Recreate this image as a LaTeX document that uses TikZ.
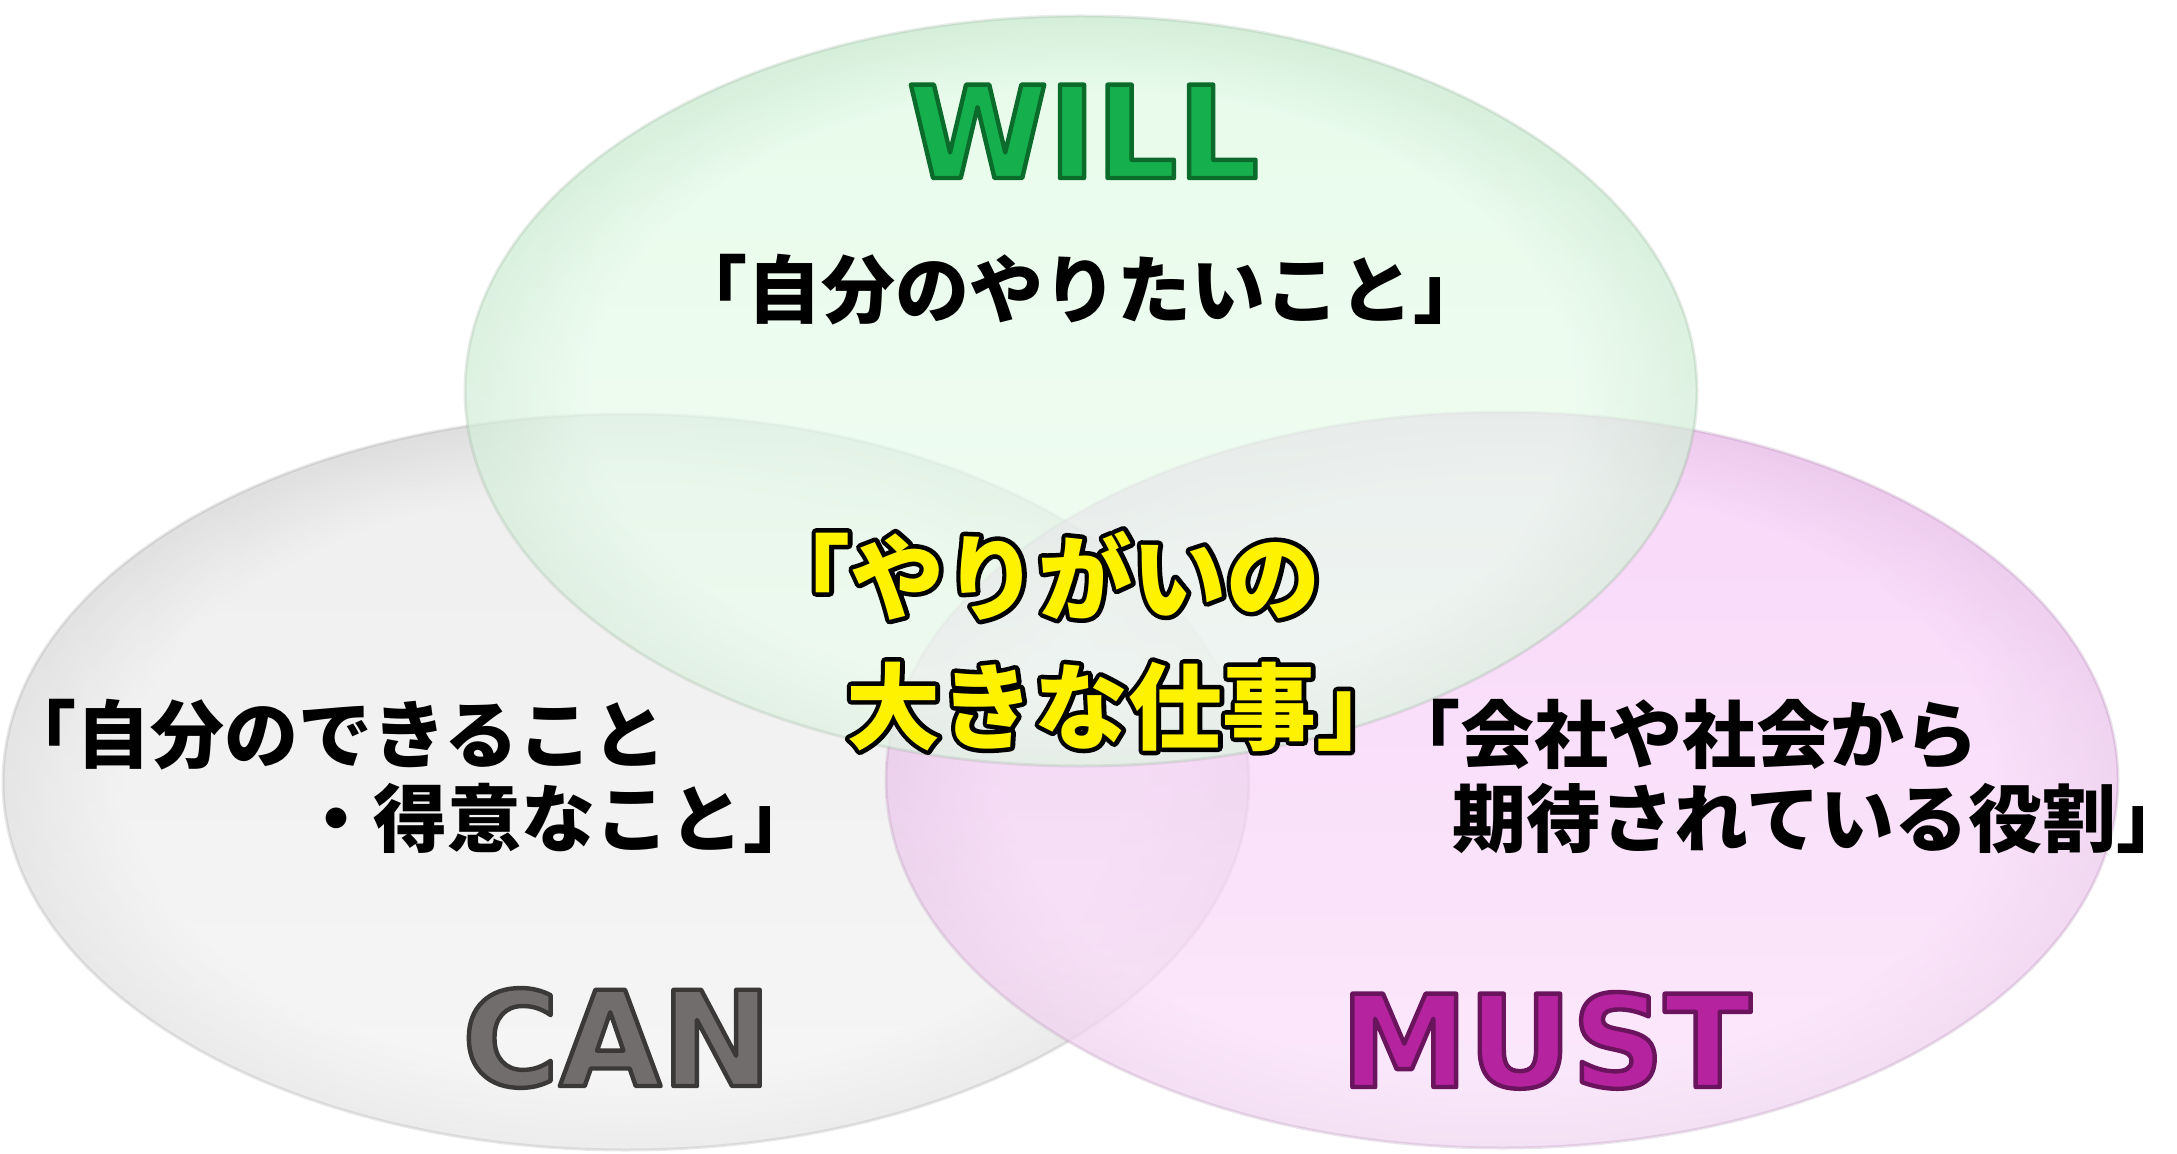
\documentclass[tikz,border=0pt]{standalone}
\usepackage{fontspec}
\usetikzlibrary{fadings}
\newfontfamily\jp{Noto Sans CJK JP}
\newfontfamily\lat{DejaVu Sans}
\definecolor{willg}{HTML}{15B04D}
\definecolor{cang}{HTML}{716D6D}
\definecolor{mustm}{HTML}{B5239E}
\definecolor{gin}{RGB}{217,250,223}
\definecolor{gout}{RGB}{188,229,195}
\definecolor{cin}{RGB}{229,229,229}
\definecolor{cout}{RGB}{203,203,203}
\definecolor{pin}{RGB}{245,190,245}
\definecolor{pout}{RGB}{226,168,226}
\pgfdeclareradialshading[rimin,rimout]{rim}{\pgfpoint{0bp}{0bp}}{color(0bp)=(rimin); color(20bp)=(rimin); color(24.6bp)=(rimout); color(25bp)=(rimout); color(50bp)=(rimout)}
\newcommand\vennell[6]{%
  \colorlet{rimin}{#5}\colorlet{rimout}{#6}%
  \shade[shading=rim, fill opacity=0.6] (#1,#2) ellipse [x radius=#3, y radius=#4];
  \fill[white, fill opacity=0.45, path fading=north] (#1,#2) ellipse [x radius=#3, y radius=#4];
  \draw[#6!70!black, draw opacity=0.2, line width=1.5] (#1,#2) ellipse [x radius=#3, y radius=#4];
}
% outlined text via PDF text render mode 2 (fill + stroke)
\newcommand\strk[2]{\special{pdf:literal direct #1 1 j 2 Tr}#2\special{pdf:literal direct 0 Tr}}
\tikzset{
  desc/.style={inner sep=0pt, text=black, font=\jp\bfseries\fontsize{37}{40}\selectfont},
  core/.style={inner sep=0pt, anchor=base west, font=\jp\bfseries\fontsize{47}{50}\selectfont},
  title/.style={inner sep=0pt, anchor=base, font=\lat\bfseries\fontsize{64}{70}\selectfont}
}
\begin{document}
\begin{tikzpicture}[x=0.5pt,y=-0.5pt]
\useasboundingbox (0,0) rectangle (2177,1154);
\fill[white] (0,0) rectangle (2177,1154);
% ellipses
\vennell{626}{782}{623}{368}{cin}{cout}
\vennell{1502}{780}{616}{368}{pin}{pout}
\vennell{1081}{391}{616}{375}{gin}{gout}
% titles
\node[title, text=willg] (will) at (1083,178) {\strk{0.04 0.42 0.17 RG 2.2 w}{WILL}};
\node[title, text=cang, font=\lat\bfseries\fontsize{66}{70}\selectfont] (can) at (617,1086) {\strk{0.23 0.22 0.22 RG 2.2 w}{CAN}};
\node[title, text=mustm] (must) at (1546,1087) {\strk{0.42 0.08 0.37 RG 2.2 w}{MUST}};
% descriptions
\node[desc, anchor=base] (willdesc) at (1080,318) {「自分のやりたいこと」};
\node[desc, anchor=base west] (candesc1) at (2,762) {「自分のできること};
\node[desc, anchor=base west] (candesc2) at (299,846) {・得意なこと」};
\node[desc, anchor=base west] (mustdesc1) at (1386,762) {「会社や社会から};
\node[desc, anchor=base west] (mustdesc2) at (1452,846) {期待されている役割」};
% core: black outline layer, then yellow text on top
\node[core, text=black] (core1o) at (756,613) {\strk{0 0 0 RG 4.5 w}{「やりがいの}};
\node[core, text=black] (core2o) at (846,742) {\strk{0 0 0 RG 4.5 w}{大きな仕事」}};
\node[core, text=yellow] (core1) at (core1o.base west) {「やりがいの};
\node[core, text=yellow] (core2) at (core2o.base west) {大きな仕事」};
\end{tikzpicture}
\end{document}
